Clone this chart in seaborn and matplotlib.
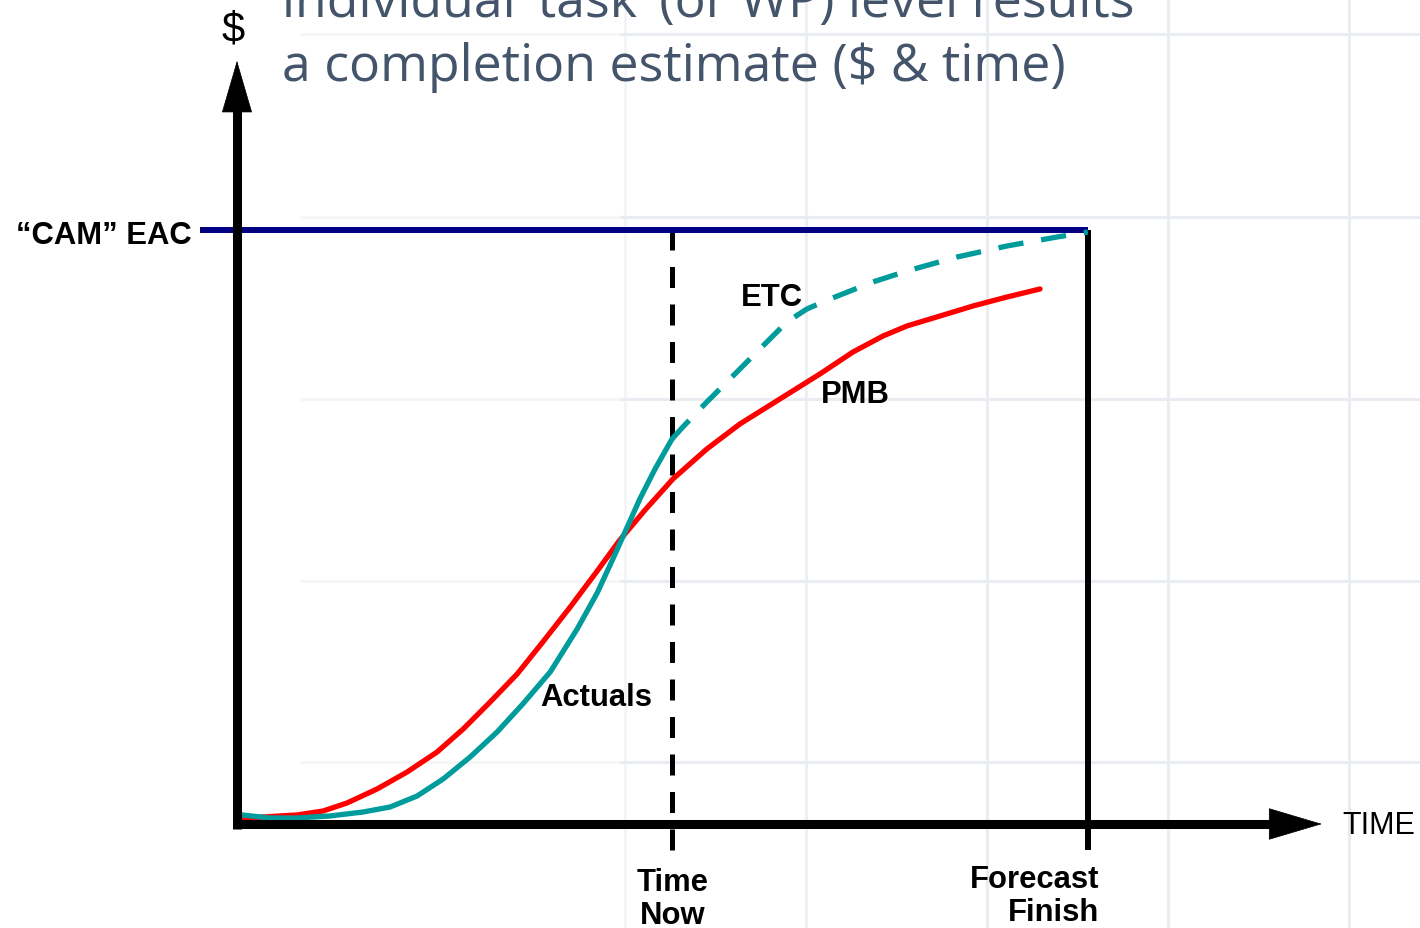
import matplotlib
matplotlib.use("Agg")
import matplotlib.pyplot as plt
import seaborn as sns

# --- DATA (time units, $ units; EAC = 100) ---
EAC = 100.0
TIME_NOW = 10.0
FORECAST_FINISH = 19.56

pmb_time = [0.02, 0.60, 1.38, 1.98, 2.53, 3.22, 3.91, 4.60, 5.20, 5.82, 6.44, 7.03, 7.66, 8.28,
            8.80, 9.38, 10.02, 10.80, 11.56, 12.48, 13.40, 14.16, 14.85, 15.40, 16.16, 16.92,
            17.70, 18.46]
pmb_cost = [0.84, 1.18, 1.52, 2.19, 3.54, 5.89, 8.75, 12.12, 15.99, 20.54, 25.25, 30.64, 36.53,
            42.59, 47.81, 52.86, 58.08, 63.13, 67.34, 71.55, 75.76, 79.46, 82.15, 83.84, 85.52,
            87.21, 88.72, 90.07]

actuals_time = [0.11, 0.76, 1.38, 2.14, 2.90, 3.52, 4.14, 4.74, 5.36, 5.98, 6.57, 7.20, 7.82,
                8.28, 8.64, 8.92, 9.26, 9.61, 10.00]
actuals_cost = [1.52, 1.01, 1.01, 1.35, 2.02, 2.86, 4.71, 7.58, 11.28, 15.49, 20.20, 25.59, 32.83,
                38.89, 44.61, 49.16, 54.71, 59.76, 64.81]

etc_time = [10.00, 10.25, 10.80, 11.40, 12.02, 12.64, 13.10, 13.63, 14.62, 15.40, 16.55, 17.70,
            18.85, 19.56]
etc_cost = [64.81, 66.84, 71.04, 75.42, 79.97, 84.51, 86.70, 88.38, 91.25, 93.10, 95.45, 97.31,
            98.82, 99.66]

title_lines = ["individual \u2018task\u2019 (or WP) level results",
               "a completion estimate ($ & time)"]

# --- colours ---
RED = "#ff0000"
TEAL = "#009b9b"
NAVY = "#000080"
TITLE_COLOR = "#44546a"

sns.set_theme(style="white")
plt.rcParams["font.family"] = ["Liberation Sans", "DejaVu Sans"]

fig = plt.figure(figsize=(14.2, 9.29), dpi=100)

# background slide grid (pixel coordinates), fading out towards the left
bg = fig.add_axes([0, 0, 1, 1], zorder=0)
bg.set_xlim(0, 1420)
bg.set_ylim(929, 0)
bg.axis("off")
grid_x = [625, 806, 987, 1168, 1349]
grid_x_colors = ["#f3f5f7", "#eef1f4", "#e9edf1", "#e9edf1", "#e9edf1"]
grid_y = [35, 218, 400, 582, 763]
bg.vlines(grid_x, 0, 929, colors=grid_x_colors, lw=2.2)
bg.hlines(grid_y, 300, 620, colors="#f5f6f8", lw=2.2)
bg.hlines(grid_y, 620, 1420, colors="#e9edf1", lw=2.2)

# main diagram axes
ax = fig.add_axes([0, 0, 1, 1], zorder=1)
ax.patch.set_alpha(0)
ax.set_xlim(-5.448, 27.195)
ax.set_ylim(-17.51, 138.89)
ax.axis("off")

Y_ARROW_TOP = 128.5
X_ARROW_END = 24.94
TICK_LOW = -4.4

# EAC line
ax.plot([-0.85, FORECAST_FINISH], [EAC, EAC], color=NAVY, lw=4.3, solid_capstyle="butt", zorder=3)

# time now (dashed) and forecast finish (solid) verticals
ax.plot([TIME_NOW, TIME_NOW], [TICK_LOW, EAC - 0.4], color="black", lw=3.6,
        linestyle=(0, (4.2, 3.3)), dash_capstyle="butt", zorder=2)
ax.plot([FORECAST_FINISH, FORECAST_FINISH], [TICK_LOW, EAC], color="black", lw=4.3,
        solid_capstyle="butt", zorder=2)

# curves
sns.lineplot(x=pmb_time, y=pmb_cost, color=RED, lw=3.8, sort=False, estimator=None,
             ax=ax, zorder=4, solid_capstyle="round", solid_joinstyle="round")
sns.lineplot(x=actuals_time, y=actuals_cost, color=TEAL, lw=3.8, sort=False, estimator=None,
             ax=ax, zorder=5, solid_capstyle="round", solid_joinstyle="round")
sns.lineplot(x=etc_time, y=etc_cost, color=TEAL, lw=3.8, sort=False, estimator=None,
             ax=ax, zorder=5, linestyle=(0, (4.8, 3.4)), dash_capstyle="butt")

# axes with arrows
ax.plot([0, 0], [-0.9, Y_ARROW_TOP - 4], color="black", lw=6.5, solid_capstyle="butt", zorder=6)
ax.plot([0, X_ARROW_END - 0.6], [0, 0], color="black", lw=6.5, solid_capstyle="butt", zorder=6)
ax.annotate("", xy=(0, Y_ARROW_TOP), xytext=(0, Y_ARROW_TOP - 10),
            arrowprops=dict(arrowstyle="-|>,head_length=0.36,head_width=0.105",
                            mutation_scale=100, color="black", lw=0.5,
                            shrinkA=0, shrinkB=0), zorder=6)
ax.annotate("", xy=(X_ARROW_END, 0), xytext=(X_ARROW_END - 2, 0),
            arrowprops=dict(arrowstyle="-|>,head_length=0.37,head_width=0.11",
                            mutation_scale=100, color="black", lw=0.5,
                            shrinkA=0, shrinkB=0), zorder=6)

# labels
bold = dict(fontsize=22.3, fontweight="bold", color="black")
ax.text(-1.03, EAC - 0.8, "\u201cCAM\u201d EAC", ha="right", va="center", **bold)
ax.text(12.30, 88.72, "ETC", ha="center", va="center", **bold)
ax.text(14.21, 72.39, "PMB", ha="center", va="center", **bold)
ax.text(8.25, 21.38, "Actuals", ha="center", va="center", **bold)
ax.text(TIME_NOW + 0.02, -12.6, "Time\nNow", ha="center", va="center", linespacing=1.12, **bold)
ax.text(19.82, -12.0, "Forecast\nFinish", ha="right", va="center", multialignment="right",
        linespacing=1.12, **bold)
ax.text(25.40, -0.17, "TIME", ha="left", va="center", fontsize=22, color="black")
ax.text(-0.09, 133.8, "$", ha="center", va="center", fontsize=30, color="black")

# slide title (partly cut off at the top)
fig.text(282 / 1420, 1 - 17 / 929, title_lines[0], fontsize=37.3, family="Open Sans",
         color=TITLE_COLOR, va="baseline", ha="left")
fig.text(282 / 1420, 1 - 81 / 929, title_lines[1], fontsize=37.3, family="Open Sans",
         color=TITLE_COLOR, va="baseline", ha="left")

fig.savefig("out.png", dpi=100)
plt.close(fig)
